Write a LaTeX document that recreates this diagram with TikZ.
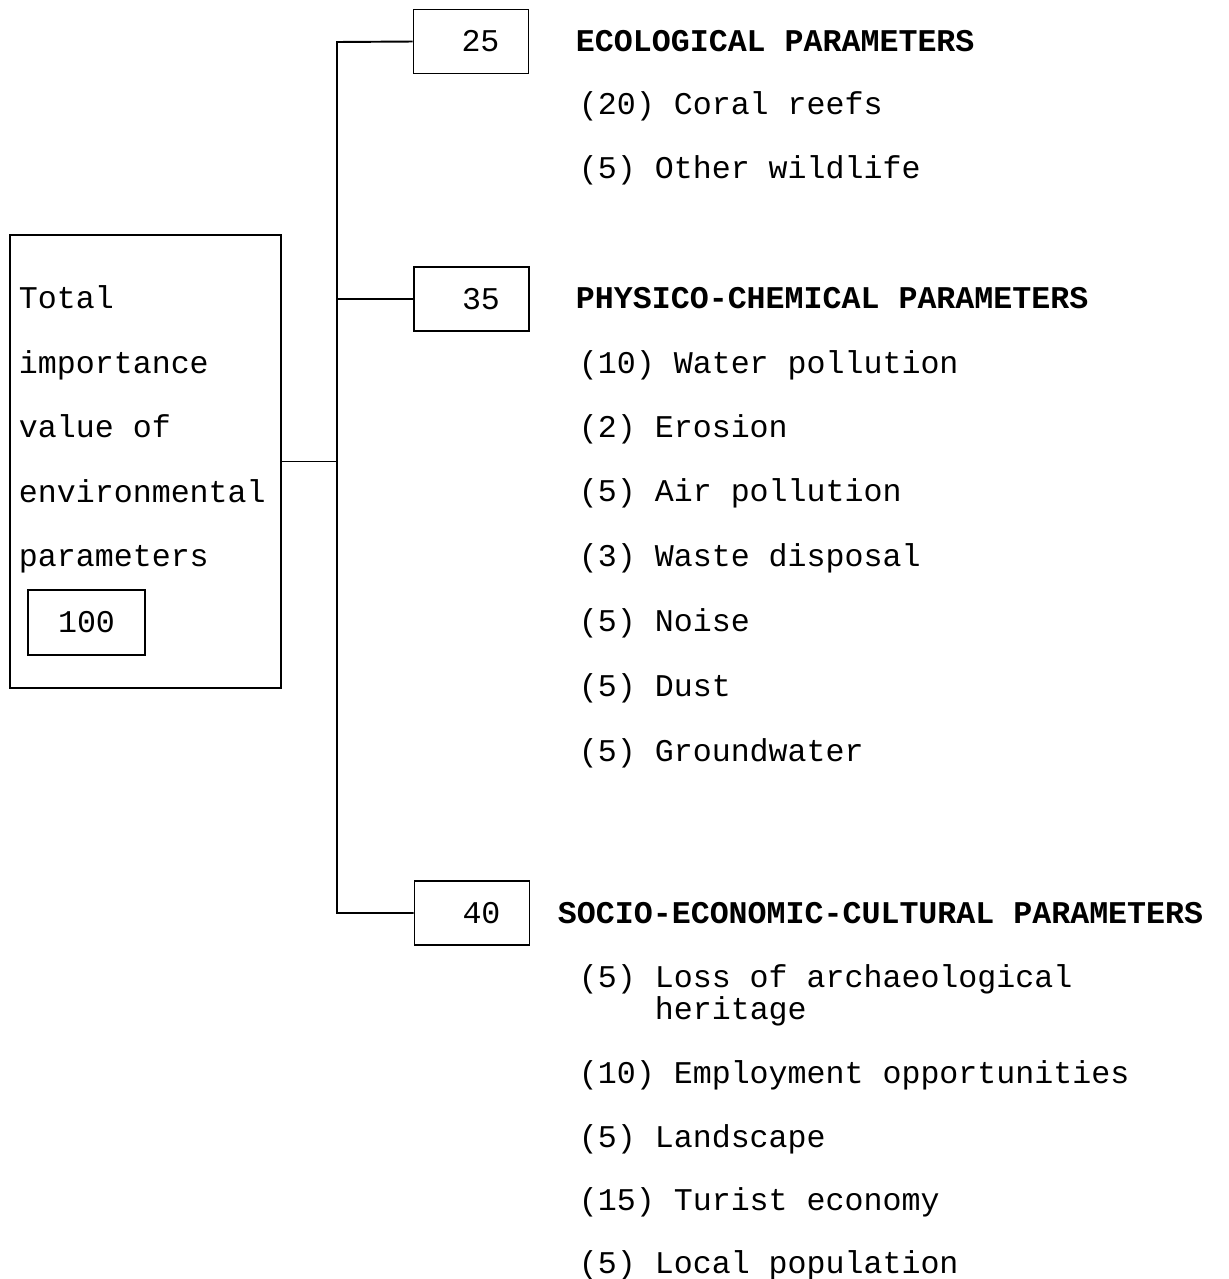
\documentclass[tikz,border=0pt]{standalone}
\usepackage{fontspec}
\setmainfont{Liberation Mono}
\begin{document}
\begin{tikzpicture}[x=0.02cm, y=-0.02cm, line width=1.1pt,
		txt/.style={anchor=base west, inner sep=0pt, font=\fontsize{18}{22}\selectfont},
		head/.style={txt, font=\fontsize{18}{22}\selectfont\bfseries},
		valbox/.style={draw, minimum width=2.3cm, minimum height=1.28cm, inner sep=0pt, font=\fontsize{18}{22}\selectfont}]
		\useasboundingbox (0,0) rectangle (1229,1279);
		
		% Total box
		\node[draw, minimum width=5.42cm, minimum height=9.06cm, inner sep=0pt] (total) at (145.5,461.5) {};
		\foreach \y/\t [count=\i] in {298/Total, 363/importance, 427/value of, 492/environmental, 556/parameters} {
			\node[txt] (tot\i) at (18,\y+10) {\t};
		}
		\node[valbox, minimum width=2.34cm, minimum height=1.3cm] (hundred) at (86.5,622.5) {100};
		
		% Value boxes
		\node[valbox] (box25) at (471,41.5) {\phantom{0}25};
		\node[valbox] (box35) at (471.5,299) {\phantom{0}35};
		\node[valbox] (box40) at (472,913) {\phantom{0}40};
		
		% Trunk
		\coordinate (top) at (337,42);
		\coordinate (bot) at (337,913);
		\draw (box25.west) -- (top) -- (bot) -- (box40.west);
		\draw (box35.west) -- (box35.west -| top);
		\draw (total.east) -- (total.east -| top);
		
		% Headers
		\node[head] (ecohead) at (575,51) {ECOLOGICAL PARAMETERS};
		\node[head] (physhead) at (575,308) {PHYSICO-CHEMICAL PARAMETERS};
		\node[head] (sociohead) at (557,923) {SOCIO-ECONOMIC-CULTURAL PARAMETERS};
		
		% Parameter lists
		\foreach \y/\t [count=\i] in {104/(20) Coral reefs, 168/(5) Other wildlife} {
			\node[txt] (eco\i) at (578,\y+10) {\t};
		}
		\foreach \y/\t [count=\i] in {363/(10) Water pollution, 427/(2) Erosion, 491/(5) Air pollution,
			556/(3) Waste disposal, 621/(5) Noise, 686/(5) Dust, 751/(5) Groundwater} {
			\node[txt] (phys\i) at (578,\y+10) {\t};
		}
		\foreach \y/\t [count=\i] in {977/(5) Loss of archaeological, 1009/\phantom{(5) }heritage,
			1073/(10) Employment opportunities, 1137/(5) Landscape, 1200/(15) Turist economy, 1263/(5) Local population} {
			\node[txt] (socio\i) at (578,\y+10) {\t};
		}
\end{tikzpicture}
\end{document}
